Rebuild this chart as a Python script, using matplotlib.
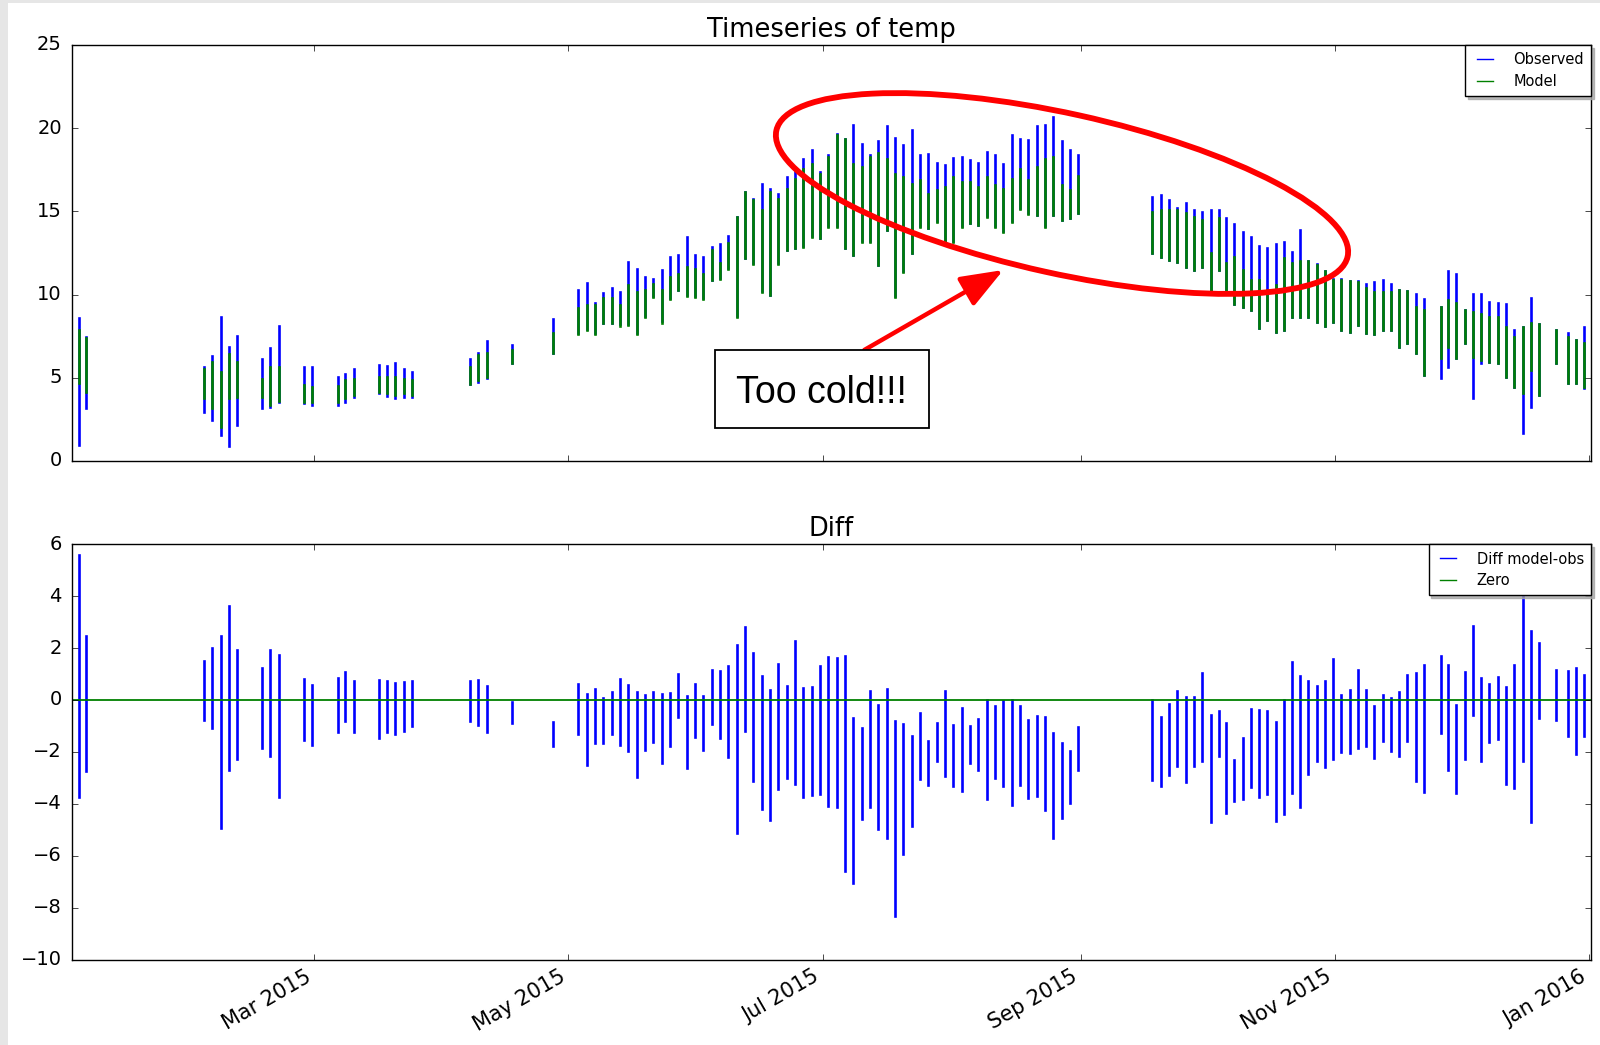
import numpy as np
import matplotlib
matplotlib.use("Agg")
import matplotlib.pyplot as plt
import matplotlib.dates as mdates
from matplotlib.patches import Ellipse, Rectangle, FancyArrowPatch, ArrowStyle

# ---------------------------------------------------------------------------
# Data: one entry per tidal burst, time in days since 2015-01-01 00:00
# ---------------------------------------------------------------------------
day = [
    2.6, 4.3,
    32.6, 34.5, 36.6, 38.5, 40.4,
    46.5, 48.4, 50.5,
    56.6, 58.5,
    64.6, 66.5, 68.5,
    74.6, 76.5, 78.5, 80.5, 82.4,
    96.5, 98.4, 100.5,
    106.5,
    116.3,
    122.4, 124.4, 126.4, 128.4, 130.4, 132.4, 134.4, 136.4, 138.4, 140.4,
    142.4, 144.4, 146.4, 148.4, 150.4, 152.4, 154.4, 156.4, 158.4, 160.4,
    162.4, 164.4, 166.4, 168.4, 170.4, 172.4, 174.4, 176.4, 178.4, 180.4,
    182.4, 184.4, 186.4, 188.4, 190.4, 192.4, 194.4, 196.4, 198.4, 200.4,
    202.4, 204.4, 206.4, 208.4, 210.4, 212.4, 214.4, 216.4, 218.4, 220.4,
    222.4, 224.4, 226.4, 228.4, 230.4, 232.4, 234.4, 236.4, 238.4, 240.4,
    242.4,
    260.1, 262.1, 264.1, 266.1, 268.1, 270.1, 272.1, 274.1, 276.1, 277.9,
    279.8, 281.8, 283.8, 285.8, 287.7, 289.7, 291.7, 293.6, 295.6, 297.6,
    299.6, 301.5, 303.5, 305.5, 307.5, 309.5, 311.4, 313.4, 315.4, 317.4,
    319.3, 321.3, 323.3, 325.3,
    329.3, 331.2, 333.1, 335.2, 337.1, 339.1, 341.0, 343.0, 345.0, 347.0,
    349.0, 351.0, 353.0,
    357.0, 359.8, 361.8, 363.8,
]

obs_high = [
    8.6, 7.42, 5.62, 6.32, 8.66, 6.86, 7.53, 6.14, 6.76, 8.1,
    5.62, 5.62, 5.06, 5.2, 5.54, 5.74, 5.7, 5.9, 5.5, 5.34,
    6.14, 6.46, 7.2, 6.96, 8.56,
    10.3, 10.67, 9.5, 10.1, 10.4, 10.15, 11.96, 11.52, 11.06, 10.96,
    11.5, 12.26, 12.4, 13.43, 12.36, 12.26, 12.83, 13.03, 13.5, 14.66,
    16.17, 15.77, 16.63, 16.33, 16.07, 17.07, 17.37, 18.17, 18.71, 17.37,
    18.37, 19.67, 19.37, 20.17, 19.07, 18.37, 19.23, 20.1, 19.43, 18.97,
    19.87, 18.37, 18.47, 17.9, 17.76, 18.23, 18.27, 18.1, 17.9, 18.57,
    18.37, 17.87, 19.57, 19.37, 19.27, 20.1, 20.17, 20.67, 19.23, 18.67,
    18.4,
    15.87, 16.0, 15.67, 15.23, 15.5, 15.07, 14.97, 15.07, 15.07, 14.57,
    14.23, 13.77, 13.47, 12.9, 12.77, 13.03, 13.17, 12.57, 13.87, 12.03,
    11.83, 11.43, 10.96, 10.96, 10.83, 10.8, 10.63, 10.76, 10.9, 10.63,
    10.3, 10.2, 10.06, 9.76, 9.26, 11.43, 11.23, 9.1, 10.06, 10.03,
    9.57, 9.47, 9.43, 7.87, 8.06, 9.77, 8.23, 7.87, 7.67, 7.27,
    8.06,
]

obs_low = [
    0.96, 3.16, 2.92, 2.46, 1.54, 0.9, 2.14, 3.2, 3.26, 3.52,
    3.46, 3.36, 3.36, 3.52, 3.86, 4.06, 3.92, 3.76, 3.86, 3.86,
    4.62, 4.76, 4.96, 5.86, 6.46,
    7.7, 7.9, 7.7, 8.3, 8.3, 8.2, 8.2, 7.7, 8.7, 9.9,
    8.4, 9.8, 10.3, 10.0, 9.9, 9.8, 10.9, 11.0, 11.6, 8.7,
    12.2, 11.9, 10.2, 10.0, 11.9, 12.7, 12.8, 12.9, 13.5, 13.4,
    14.1, 14.1, 12.8, 12.4, 13.2, 13.2, 11.8, 13.9, 9.9, 11.4,
    12.5, 14.1, 14.0, 14.4, 13.2, 13.2, 14.1, 14.3, 14.2, 14.7,
    14.1, 13.8, 14.4, 15.2, 14.9, 14.8, 14.1, 14.8, 14.5, 14.6,
    14.9,
    12.5, 12.23, 12.1, 11.97, 11.63, 11.5, 11.66, 10.26, 11.47, 10.06,
    9.46, 9.26, 9.06, 7.96, 8.46, 7.76, 7.86, 8.66, 8.66, 8.66,
    8.36, 8.1, 8.36, 7.86, 7.76, 8.16, 7.66, 7.6, 7.86, 7.86,
    6.86, 7.06, 6.5, 5.17, 4.96, 5.66, 6.16, 7.06, 3.76, 5.86,
    5.97, 5.86, 5.06, 4.46, 1.66, 3.26, 3.96, 5.86, 4.67, 4.67,
    4.4,
]

model_high = [
    7.86, 7.36, 5.5, 5.96, 5.36, 6.42, 5.96, 4.9, 5.66, 5.66,
    4.56, 4.46, 4.5, 4.86, 4.9, 5.06, 5.06, 5.06, 4.94, 4.86,
    5.66, 6.36, 6.46, 6.66, 7.66,
    9.2, 9.36, 9.36, 9.77, 9.77, 9.36, 10.56, 10.16, 10.26, 10.66,
    10.26, 11.06, 11.26, 11.66, 11.56, 11.26, 12.7, 11.9, 13.07, 14.66,
    16.17, 15.66, 15.07, 16.17, 15.77, 16.37, 16.97, 17.57, 17.87, 17.27,
    18.27, 19.57, 19.37, 17.87, 17.67, 18.27, 18.51, 18.17, 17.27, 17.07,
    16.67, 16.87, 16.07, 16.27, 16.47, 17.07, 16.77, 16.77, 16.47, 17.07,
    16.57, 16.37, 16.97, 17.57, 16.87, 17.67, 18.17, 18.27, 16.57, 16.3,
    17.1,
    14.97, 15.1, 15.06, 15.1, 14.9, 14.67, 14.5, 12.47, 14.57, 11.87,
    12.23, 11.47, 10.87, 10.87, 10.26, 10.57, 12.17, 11.87, 12.03, 12.0,
    11.76, 11.4, 10.9, 10.86, 10.8, 10.76, 10.4, 10.16, 10.16, 10.16,
    10.3, 10.2, 9.26, 9.06, 9.26, 9.66, 9.5, 9.1, 8.96, 8.86,
    8.66, 8.66, 8.06, 7.47, 8.06, 8.26, 8.23, 7.87, 7.47, 7.27,
    7.07,
]

model_low = [
    4.66, 4.16, 3.76, 3.16, 2.06, 3.76, 3.86, 3.86, 3.36, 3.62,
    3.56, 3.56, 3.56, 3.76, 3.96, 4.16, 4.06, 3.96, 4.06, 3.96,
    4.62, 4.86, 5.06, 5.86, 6.46,
    7.62, 7.86, 7.62, 8.26, 8.26, 8.1, 8.16, 7.62, 8.66, 9.87,
    8.3, 9.76, 10.26, 9.9, 9.86, 9.76, 10.86, 10.96, 11.56, 8.66,
    12.17, 11.86, 10.16, 9.96, 11.86, 12.66, 12.77, 12.87, 13.46, 13.4,
    14.07, 14.07, 12.77, 12.37, 13.16, 13.16, 11.76, 13.87, 9.86, 11.36,
    12.47, 14.07, 13.97, 14.37, 13.16, 13.16, 14.07, 14.27, 14.17, 14.67,
    14.07, 13.77, 14.37, 15.17, 14.87, 14.77, 14.07, 14.77, 14.47, 14.57,
    14.9,
    12.5, 12.23, 12.1, 11.97, 11.63, 11.5, 11.66, 10.26, 11.47, 10.06,
    9.46, 9.26, 9.06, 7.96, 8.46, 7.76, 7.86, 8.66, 8.66, 8.66,
    8.36, 8.1, 8.36, 7.86, 7.76, 8.16, 7.66, 7.6, 7.86, 7.86,
    6.86, 7.06, 6.5, 5.17, 6.16, 6.86, 6.16, 7.06, 6.26, 6.06,
    5.97, 5.86, 5.06, 4.46, 4.06, 5.46, 3.96, 5.86, 4.67, 4.67,
    4.46,
]

diff_high = [
    5.59, 2.45, 1.49, 2.0, 2.47, 3.63, 1.91, 1.23, 1.92, 1.74,
    0.81, 0.59, 0.84, 1.09, 0.72, 0.76, 0.72, 0.65, 0.68, 0.72,
    0.72, 0.78, 0.55, -0.09, -0.86,
    0.63, 0.24, 0.42, 0.08, 0.31, 0.81, 0.59, 0.31, 0.2, 0.31,
    0.23, 0.27, 1.0, 0.16, 0.61, 0.14, 1.14, 1.13, 1.29, 2.13,
    2.81, 1.81, 0.91, 0.39, 1.4, 0.55, 2.26, 0.47, 0.51, 1.32,
    1.65, 1.61, 1.7, -0.69, -1.08, 0.36, -0.18, 0.42, -0.82, -0.91,
    -1.4, -0.5, -1.59, -0.88, 0.33, -0.95, -0.31, -1.01, -0.73, 0.01,
    -0.22, -0.05, 0.01, -0.22, -0.78, -0.6, -0.65, -1.27, -1.65, -1.97,
    -1.05,
    -0.01, -0.65, -0.14, 0.33, 0.12, 0.12, 1.03, -0.57, -0.44, -0.88,
    -2.3, -1.46, -0.35, -0.37, -0.44, -0.86, 0.0, 1.45, 0.91, 0.72,
    0.52, 0.75, 1.57, 0.2, 0.4, 1.17, 0.4, -0.22, 0.2, 0.07,
    0.29, 0.97, 1.03, 1.36, 1.7, 1.36, -0.18, 1.06, 2.86, 0.84,
    0.62, 0.89, 0.5, 1.36, 4.05, 2.64, 2.19, 1.14, 1.1, 1.23,
    0.97,
]

diff_low = [
    -3.75, -2.75, -0.76, -1.08, -4.95, -2.68, -2.27, -1.85, -2.17, -3.75,
    -1.53, -1.72, -1.24, -0.82, -1.24, -1.46, -1.24, -1.31, -1.2, -1.01,
    -0.82, -0.95, -1.24, -0.88, -1.76,
    -1.33, -2.49, -1.65, -1.65, -1.33, -1.72, -1.97, -2.96, -1.94, -1.63,
    -2.42, -1.78, -0.65, -2.62, -1.42, -1.91, -0.91, -1.46, -2.19, -5.12,
    -1.21, -3.13, -4.22, -4.63, -3.43, -3.0, -3.22, -3.73, -3.68, -3.64,
    -4.09, -4.12, -6.59, -7.04, -4.6, -4.12, -4.99, -5.31, -8.32, -5.92,
    -4.86, -3.04, -3.26, -2.36, -2.94, -3.3, -3.51, -2.43, -2.68, -3.83,
    -3.0, -3.3, -4.03, -3.26, -3.77, -3.71, -4.24, -5.31, -4.54, -3.96,
    -2.71,
    -3.09, -3.3, -2.88, -2.53, -3.17, -2.53, -2.36, -4.7, -2.17, -4.35,
    -3.9, -3.81, -3.35, -3.73, -3.64, -4.66, -4.41, -3.58, -4.12, -2.87,
    -2.36, -2.58, -2.27, -2.01, -2.04, -1.85, -1.78, -2.23, -1.59, -1.98,
    -2.14, -1.59, -3.13, -3.55, -1.27, -2.68, -3.58, -2.27, -0.56, -2.36,
    -1.63, -1.5, -3.25, -3.38, -2.36, -4.7, -0.69, -0.76, -1.4, -2.1,
    -1.4,
]

month_ticks = [1, 3, 5, 7, 9, 11]
temp_ticks = [0, 5, 10, 15, 20, 25]
diff_ticks = [-10, -8, -6, -4, -2, 0, 2, 4, 6]

# ---------------------------------------------------------------------------
# Style
# ---------------------------------------------------------------------------
plt.style.use("classic")
plt.rcParams.update({
    "figure.facecolor": "white",
    "savefig.facecolor": "white",
    "font.family": ["DejaVu Sans"],
    "xtick.labelsize": 15,
    "ytick.labelsize": 14,
    "xtick.major.pad": 5,
    "ytick.major.pad": 7,
})

START = np.datetime64("2015-01-01T00:00:00")


def burst_line(days, low, high):
    """Vertical burst segments joined into one line, split by NaN gaps."""
    secs = (np.asarray(days, dtype=float) * 86400).astype("timedelta64[s]")
    t = np.repeat(START + secs, 3)
    y = np.column_stack([low, high, np.full(len(low), np.nan)]).ravel()
    return t, y


fig = plt.figure(figsize=(16, 10.45), dpi=100)
ax1 = fig.add_axes([0.0447, 0.5589, 0.9498, 0.3981])
ax2 = fig.add_axes([0.0447, 0.0818, 0.9498, 0.3974], sharex=ax1)

lw = 1.9
t, y = burst_line(day, obs_low, obs_high)
ax1.plot(t, y, color="b", lw=lw, label="Observed")
t, y = burst_line(day, model_low, model_high)
ax1.plot(t, y, color="g", lw=lw, label="Model")

t, y = burst_line(day, diff_low, diff_high)
ax2.plot(t, y, color="b", lw=lw, label="Diff model-obs")
ax2.axhline(0, color="g", lw=1.3, label="Zero")

ax1.set_title("Timeseries of temp", fontsize=18.5, pad=6)
ax2.set_title("Diff", fontsize=18.5, pad=6)

ax1.set_ylim(temp_ticks[0], temp_ticks[-1])
ax1.set_yticks(temp_ticks)
ax2.set_ylim(diff_ticks[0], diff_ticks[-1])
ax2.set_yticks(diff_ticks)

ax2.set_xlim(np.datetime64("2015-01-01T18:00"), np.datetime64("2016-01-01T11:00"))
ax2.xaxis.set_major_locator(mdates.MonthLocator(bymonth=month_ticks))
ax2.xaxis.set_major_formatter(mdates.DateFormatter("%b %Y"))
ax1.tick_params(labelbottom=False)
plt.setp(ax2.get_xticklabels(), rotation=30, ha="right")

leg_kw = dict(loc="upper right", fontsize=10.5, borderaxespad=0, borderpad=0.5,
              labelspacing=0.45, handlelength=1.7, handletextpad=1.1,
              fancybox=False, shadow={"color": "0.65", "alpha": 0.8})
for ax in (ax1, ax2):
    leg = ax.legend(**leg_kw)
    for ln in leg.get_lines():
        ln.set_linewidth(1.0)

# ---------------------------------------------------------------------------
# Hand-drawn callout (positions in inches from the lower-left figure corner)
# ---------------------------------------------------------------------------
inch = fig.dpi_scale_trans
fig.add_artist(Ellipse((10.62, 8.515), 5.85, 1.6, angle=-12.46,
                       transform=inch, fill=False, edgecolor="red", lw=4.2))
fig.add_artist(FancyArrowPatch((8.643, 6.95), (10.033, 7.75), transform=inch,
                               arrowstyle=ArrowStyle("-|>", head_length=26, head_width=10),
                               mutation_scale=1, lw=3.2, color="red",
                               shrinkA=0, shrinkB=0))
fig.add_artist(Rectangle((7.153, 6.174), 2.133, 0.776, transform=inch,
                         facecolor="white", edgecolor="black", lw=1.3))
fig.text(8.21, 6.417, "Too cold!!!", transform=inch, ha="center", va="baseline",
         fontsize=27, family=["Liberation Sans", "DejaVu Sans"])

# thin grey margin along the left and top edges
fig.add_artist(Rectangle((0, 0), 8 / 1600, 1, transform=fig.transFigure,
                         facecolor="#e6e6e6", edgecolor="none"))
fig.add_artist(Rectangle((0, 1 - 3 / 1045), 1, 3 / 1045, transform=fig.transFigure,
                         facecolor="#e6e6e6", edgecolor="none"))

fig.savefig("out.png", dpi=100)
